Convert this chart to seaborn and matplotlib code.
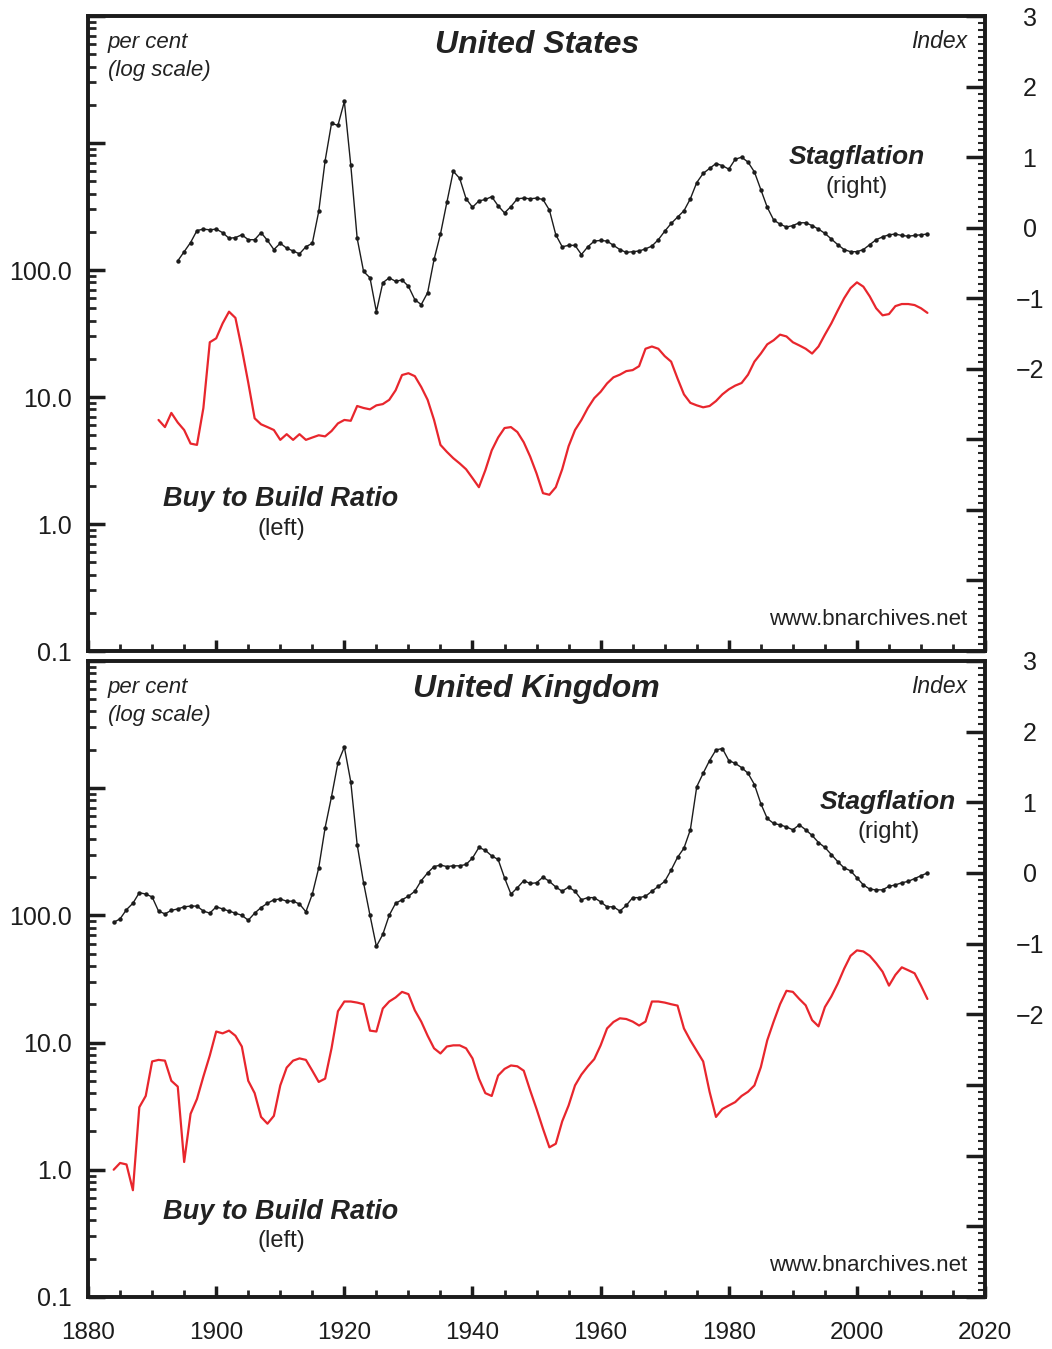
import numpy as np
import pandas as pd
import matplotlib
matplotlib.use("Agg")
import matplotlib.pyplot as plt
import seaborn as sns
from matplotlib.ticker import FixedLocator, FixedFormatter, LogLocator, MultipleLocator, NullFormatter, FuncFormatter

sns.set_style("ticks")
plt.rcParams['font.family'] = ['Liberation Sans', 'DejaVu Sans']

# ---- data ----
# United States, stagflation index (right axis), annual from 1894
us_stag_start = 1894
us_stag = [-0.47, -0.34, -0.21, -0.04, -0.02, -0.03, -0.02, -0.07, -0.15, -0.14,
           -0.10, -0.17, -0.17, -0.07, -0.18, -0.31, -0.22, -0.29, -0.33, -0.37,
           -0.27, -0.22, 0.23, 0.95, 1.48, 1.45, 1.79, 0.89, -0.15, -0.62,
           -0.71, -1.19, -0.78, -0.71, -0.76, -0.74, -0.83, -1.02, -1.09, -0.92,
           -0.45, -0.09, 0.36, 0.80, 0.70, 0.41, 0.29, 0.38, 0.40, 0.44,
           0.31, 0.21, 0.30, 0.41, 0.42, 0.41,
           0.42, 0.40, 0.25, -0.10, -0.27, -0.25, -0.25, -0.38, -0.27, -0.19,
           -0.18, -0.19, -0.25, -0.31, -0.35, -0.34, -0.33, -0.30, -0.26, -0.17,
           -0.05, 0.06, 0.15, 0.24, 0.41, 0.64, 0.77, 0.84, 0.91, 0.88,
           0.83, 0.97, 1.00, 0.93, 0.79, 0.54, 0.29, 0.11, 0.05, 0.01,
           0.03, 0.07, 0.07, 0.03, -0.02, -0.08, -0.16, -0.24, -0.31, -0.34,
           -0.34, -0.31, -0.24, -0.17, -0.13, -0.10, -0.09, -0.11, -0.12, -0.11,
           -0.10, -0.09]

# United States, buy to build ratio (left axis, per cent), annual from 1891
us_ratio_start = 1891
us_ratio = [6.6, 5.8, 7.5, 6.3, 5.5, 4.3, 4.2, 8.2, 27, 29,
            38, 47, 42, 24, 13, 6.8, 6.1, 5.8, 5.5, 4.6,
            5.1, 4.6, 5.1, 4.6, 4.8, 5.0, 4.9, 5.4, 6.2, 6.6,
            6.5, 8.5, 8.2, 8.0, 8.6, 8.8, 9.5, 11.3, 14.9, 15.4,
            14.6, 12, 9.5, 6.6, 4.2, 3.7, 3.3, 3.0, 2.7, 2.3,
            1.95, 2.65, 3.8, 4.8, 5.7, 5.8, 5.3, 4.4, 3.4, 2.5,
            1.75, 1.7, 1.95, 2.7, 4.1, 5.5, 6.6, 8.2, 9.8, 11,
            12.8, 14.3, 15.0, 16.0, 16.3, 17.5, 24, 25, 24, 21,
            19, 14, 10.5, 9.0, 8.6, 8.3, 8.5, 9.3, 10.5, 11.5,
            12.3, 12.9, 15, 19, 22, 26, 28, 31, 30, 27,
            25.5, 24, 22, 25, 31, 38, 48, 60, 72, 80,
            74, 62, 50, 44, 45, 52, 54, 54, 53, 50, 46]

# United Kingdom, stagflation index (right axis), annual from 1884
uk_stag_start = 1884
uk_stag = [-0.70, -0.65, -0.52, -0.43, -0.28, -0.30, -0.34, -0.54, -0.58, -0.53,
           -0.51, -0.48, -0.47, -0.47, -0.54, -0.57, -0.48, -0.51, -0.54, -0.57,
           -0.60, -0.67, -0.57, -0.49, -0.43, -0.38, -0.37, -0.40, -0.40, -0.44,
           -0.55, -0.30, 0.07, 0.64, 1.08, 1.56, 1.78, 1.29, 0.40, -0.14,
           -0.60, -1.04, -0.87, -0.60, -0.43, -0.38, -0.33, -0.26, -0.11, 0.00,
           0.09, 0.11, 0.09, 0.10, 0.10, 0.12, 0.21, 0.36, 0.32, 0.24,
           0.19, -0.07, -0.30, -0.21, -0.11,
           -0.15, -0.14, -0.06, -0.12, -0.20, -0.26, -0.20, -0.26, -0.38, -0.35,
           -0.35, -0.41, -0.48, -0.48, -0.54, -0.46, -0.35, -0.35, -0.33, -0.26,
           -0.19, -0.12, 0.04, 0.22, 0.35, 0.61, 1.22, 1.41, 1.59, 1.74,
           1.76, 1.59, 1.55, 1.49, 1.41, 1.25, 0.98, 0.77, 0.70, 0.68,
           0.65, 0.61, 0.68, 0.61, 0.53, 0.43, 0.36, 0.26, 0.16, 0.07,
           0.03, -0.07, -0.17, -0.23, -0.24, -0.24, -0.19, -0.17, -0.14, -0.12,
           -0.08, -0.04, 0.00]

# United Kingdom, buy to build ratio (left axis, per cent), annual from 1884
uk_ratio_start = 1884
uk_ratio = [1.0, 1.13, 1.1, 0.69, 3.1, 3.8, 7.1, 7.3, 7.2, 5.0,
            4.5, 1.15, 2.75, 3.6, 5.4, 7.9, 12.2, 11.8, 12.4, 11.3,
            9.3, 5.0, 4.0, 2.6, 2.3, 2.65, 4.6, 6.35, 7.2, 7.5,
            7.3, 6.0, 4.9, 5.2, 9.0, 17.6, 21, 21, 20.6, 20,
            12.4, 12.2, 18.5, 21, 22.6, 25, 24, 17.9, 14.6, 11.3,
            9.0, 8.2, 9.3, 9.5, 9.5, 9.0, 7.5, 5.2, 4.0, 3.8,
            5.5, 6.2, 6.6, 6.5, 6.0, 4.2, 3.0, 2.1, 1.5, 1.6,
            2.4, 3.2, 4.6, 5.6, 6.5, 7.4, 9.5, 12.9, 14.5, 15.5,
            15.3, 14.6, 13.6, 14.6, 21, 21, 20.6, 20, 19.5, 12.9,
            10.4, 8.6, 7.1, 4.1, 2.6, 3.0, 3.2, 3.4, 3.8, 4.1,
            4.6, 6.4, 10.4, 14.6, 20, 25.5, 25, 22, 19.6, 15,
            13.4, 19, 23, 29, 38, 48, 53, 52, 48, 42,
            36, 28, 34, 39, 37, 35, 28, 22]

RED = '#e8262d'
INK = '#1c1c1c'
TXT = '#222222'

# label heights (axes fraction) for the "Buy to Build Ratio" note in each panel
rat_y = {'United States': (0.239, 0.192), 'United Kingdom': (0.134, 0.088)}


def draw_panel(ax, title, stag_start, stag, ratio_start, ratio, stag_label_x, show_years):
    ratio_df = pd.DataFrame({'year': np.arange(ratio_start, ratio_start + len(ratio)), 'ratio': ratio})
    stag_df = pd.DataFrame({'year': np.arange(stag_start, stag_start + len(stag)), 'stag': stag})

    # red line on the left (log) axis
    sns.lineplot(data=ratio_df, x='year', y='ratio', ax=ax, color=RED, linewidth=1.6)
    ax.set_yscale('log')
    ax.set_ylim(0.1, 10000)
    ax.set_xlim(1880, 2020)
    ax.set_xlabel('')
    ax.set_ylabel('')

    ax.yaxis.set_major_locator(FixedLocator([0.1, 1, 10, 100, 1000, 10000]))
    ax.yaxis.set_major_formatter(FixedFormatter(['0.1', '1.0', '10.0', '100.0', '', '']))
    ax.yaxis.set_minor_locator(LogLocator(base=10, subs=np.arange(2, 10)))
    ax.yaxis.set_minor_formatter(NullFormatter())
    ax.tick_params(axis='y', which='major', direction='in', length=12, width=2.5,
                   left=True, right=False, labelsize=18, pad=12, colors=INK)
    ax.tick_params(axis='y', which='minor', direction='in', length=6, width=2,
                   left=True, right=False)

    ax.xaxis.set_major_locator(MultipleLocator(20))
    ax.xaxis.set_minor_locator(MultipleLocator(5))
    ax.tick_params(axis='x', which='major', direction='in', length=8, width=2.5,
                   bottom=True, top=False, labelsize=17.5, pad=18, colors=INK,
                   labelbottom=show_years)
    ax.tick_params(axis='x', which='minor', direction='in', length=5, width=2,
                   bottom=True, top=False)

    # black dotted-marker line on the right (index) axis
    ax2 = ax.twinx()
    sns.lineplot(data=stag_df, x='year', y='stag', ax=ax2, color=INK, linewidth=1.0,
                 marker='o', markersize=3.2, markeredgewidth=0)
    ax2.set_ylim(-6, 3)
    ax2.set_xlim(1880, 2020)
    ax2.set_ylabel('')
    ax2.yaxis.set_major_locator(MultipleLocator(1))
    ax2.yaxis.set_minor_locator(MultipleLocator(0.1))
    ax2.yaxis.set_major_formatter(FuncFormatter(
        lambda v, p: ('%d' % round(v)).replace('-', '\u2212') if v >= -2.5 else ''))
    ax2.tick_params(axis='y', which='major', direction='in', length=14, width=2.5,
                    right=True, left=False, labelsize=18, pad=32, colors=INK)
    ax2.tick_params(axis='y', which='minor', direction='in', length=5, width=1.5,
                    right=True, left=False)
    for lab in ax2.get_yticklabels():
        lab.set_horizontalalignment('center')

    for a in (ax, ax2):
        for sp in a.spines.values():
            sp.set_visible(True)
            sp.set_linewidth(2.6)
            sp.set_color(INK)

    # annotations
    tr = ax.transAxes
    ax.text(0.022, 0.975, 'per cent\n(log scale)', transform=tr, ha='left', va='top',
            fontsize=16, style='italic', color=TXT, linespacing=1.45)
    ax.text(0.5, 0.955, title, transform=tr, ha='center', va='center',
            fontsize=23, style='italic', weight='bold', color=TXT)
    ax.text(0.98, 0.96, 'Index', transform=tr, ha='right', va='center',
            fontsize=16.5, style='italic', color=TXT)
    ax.text(stag_label_x, 0.778, 'Stagflation', transform=tr, ha='center', va='center',
            fontsize=19, style='italic', weight='bold', color=TXT)
    ax.text(stag_label_x, 0.731, '(right)', transform=tr, ha='center', va='center',
            fontsize=17, color=TXT)
    ax.text(0.215, rat_y[title][0], 'Buy to Build Ratio', transform=tr, ha='center', va='center',
            fontsize=19.5, style='italic', weight='bold', color=TXT)
    ax.text(0.215, rat_y[title][1], '(left)', transform=tr, ha='center', va='center',
            fontsize=17, color=TXT)
    ax.text(0.98, 0.049, 'www.bnarchives.net', transform=tr, ha='right', va='center',
            fontsize=16, color=TXT)


fig = plt.figure(figsize=(10.52, 13.49), dpi=100)
ax_us = fig.add_axes([0.0837, 0.5174, 0.8527, 0.4707])
ax_uk = fig.add_axes([0.0837, 0.0386, 0.8527, 0.4715])

draw_panel(ax_us, 'United States', us_stag_start, us_stag, us_ratio_start, us_ratio, 0.857, False)
draw_panel(ax_uk, 'United Kingdom', uk_stag_start, uk_stag, uk_ratio_start, uk_ratio, 0.892, True)

fig.savefig('out.png', dpi=100, facecolor='white')
